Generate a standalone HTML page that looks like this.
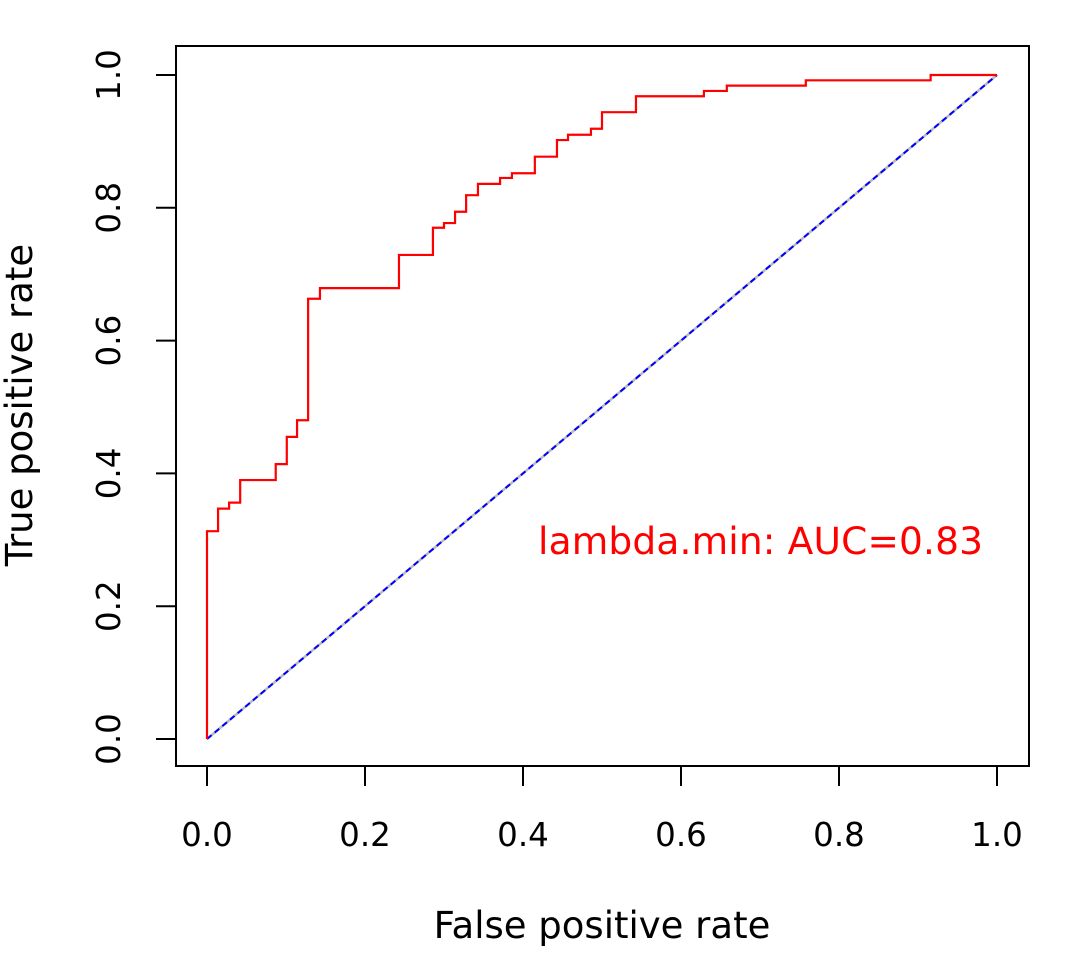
<!DOCTYPE html>
<html><head><meta charset="utf-8"><style>
html,body{margin:0;padding:0;background:#fff;}
svg text{font-family:"DejaVu Sans","Liberation Sans",sans-serif;}
</style></head><body>
<svg id="chart" width="1069" height="949" xmlns="http://www.w3.org/2000/svg">
<rect x="176" y="46" width="853" height="720" fill="none" stroke="#000" stroke-width="2"/>
<g id="xaxis"></g>
<g id="yaxis"></g>
<line id="diag" stroke="#bbb" stroke-width="2.5"/>
<line id="diag2" stroke="#0000ff" stroke-width="2" stroke-dasharray="6,4"/>
<path id="roc" fill="none" stroke="#ff0000" stroke-width="2.2"/>
<text x="538" y="554" font-size="37.5" fill="#ff0000" textLength="445">lambda.min: AUC=0.83</text>
<text x="602" y="938" font-size="37" text-anchor="middle">False positive rate</text>
<text transform="translate(32,405) rotate(-90)" font-size="37" text-anchor="middle">True positive rate</text>
</svg>
<script>
const fpr=[0,0.014,0.028,0.042,0.087,0.101,0.114,0.128,0.143,0.243,0.286,0.300,0.314,0.328,0.343,0.371,0.386,0.415,0.443,0.457,0.486,0.500,0.543,0.629,0.658,0.758,0.916];
const tpr=[0.313,0.347,0.356,0.390,0.414,0.455,0.480,0.663,0.679,0.729,0.770,0.777,0.794,0.819,0.836,0.845,0.852,0.877,0.902,0.910,0.919,0.944,0.968,0.976,0.984,0.992,1.0];
const xTicks=[0,0.2,0.4,0.6,0.8,1.0];
const yTicks=[0,0.2,0.4,0.6,0.8,1.0];
const X=v=>207+v*790, Y=v=>739-v*664;
const NS="http://www.w3.org/2000/svg";
let d=`M${X(0)},${Y(0)}`;
for(let i=0;i<fpr.length;i++){d+=` L${X(fpr[i])},${i?Y(tpr[i-1]):Y(0)} L${X(fpr[i])},${Y(tpr[i])}`;}
d+=` L${X(1)},${Y(tpr[tpr.length-1])}`;
document.getElementById('roc').setAttribute('d',d);
for(const id of ['diag','diag2']){const l=document.getElementById(id);l.setAttribute('x1',X(0));l.setAttribute('y1',Y(0));l.setAttribute('x2',X(1));l.setAttribute('y2',Y(1));}
const xa=document.getElementById('xaxis'),ya=document.getElementById('yaxis');
function mk(tag,attrs,parent,txt){const e=document.createElementNS(NS,tag);for(const k in attrs)e.setAttribute(k,attrs[k]);if(txt!==undefined)e.textContent=txt;parent.appendChild(e);return e;}
let ax=mk('line',{x1:X(0),x2:X(1),y1:766,y2:766,stroke:'#000','stroke-width':2},xa);


xTicks.forEach(v=>{
 const t=mk('line',{x1:X(v),x2:X(v),y1:766,y2:786,stroke:'#000','stroke-width':2},xa);
 
 
 const l=mk('text',{x:X(v),y:846,'font-size':32.5,'text-anchor':'middle'},xa,v.toFixed(1));
 
 
});
let ay=mk('line',{x1:176,x2:176,y1:Y(0),y2:Y(1),stroke:'#000','stroke-width':2},ya);


yTicks.forEach(v=>{
 const t=mk('line',{x1:156,x2:176,y1:Y(v),y2:Y(v),stroke:'#000','stroke-width':2},ya);
 
 
 const l=mk('text',{transform:`translate(120,${Y(v)}) rotate(-90)`,'font-size':32.5,'text-anchor':'middle'},ya,v.toFixed(1));
 
 
});
</script>
</body></html>
